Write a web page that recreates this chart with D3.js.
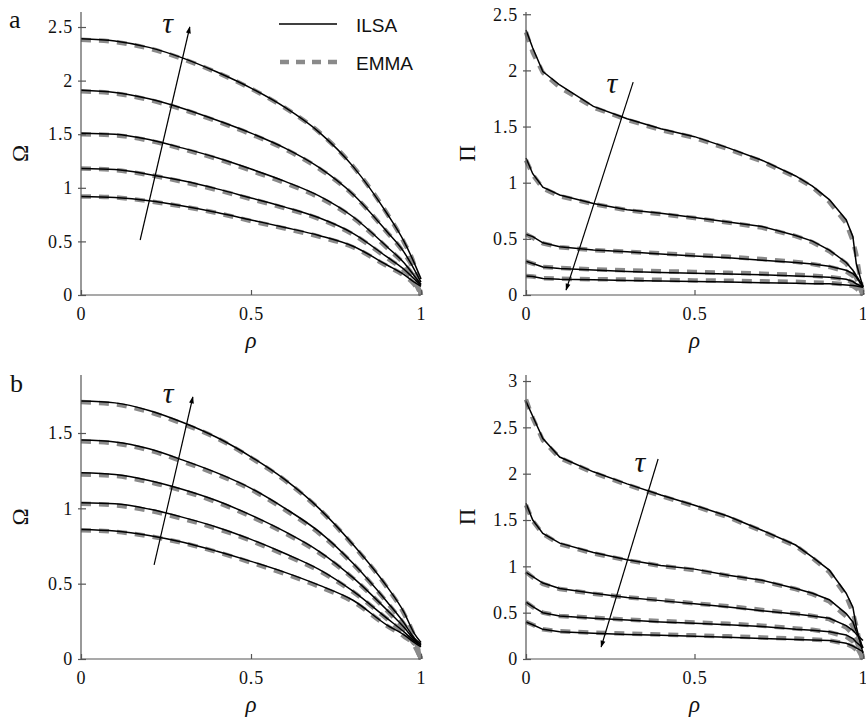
<!DOCTYPE html>
<html>
<head>
<meta charset="utf-8">
<script src="https://cdn.jsdelivr.net/npm/d3@7"></script>
<style>
  body { margin: 0; background: #fff; }
  svg { display: block; }
  .axis path, .axis line { stroke: #555; stroke-width: 1.2; }
  .lab { font-family: "Liberation Serif", "DejaVu Serif", serif; fill: #111; }
  .leg { font-family: "Liberation Sans", Arial, sans-serif; font-size: 19px; fill: #111; }
</style>
</head>
<body>
<div id="chart"></div>
<script>
// rho grids
var rhoL = [0, 0.1, 0.2, 0.3, 0.4, 0.5, 0.6, 0.7, 0.8, 0.9, 0.95, 0.98, 1];
var rhoR = [0, 0.02, 0.05, 0.1, 0.2, 0.3, 0.4, 0.5, 0.6, 0.7, 0.8, 0.85, 0.9, 0.95, 0.97, 0.98, 1];

// panel a, Omega
var omegaA_ilsa = [
  [0.92, 0.91, 0.88, 0.83, 0.77, 0.70, 0.63, 0.555, 0.455, 0.28, 0.19, 0.12, 0.08],
  [1.18, 1.17, 1.125, 1.065, 0.99, 0.905, 0.82, 0.72, 0.575, 0.355, 0.24, 0.15, 0.09],
  [1.51, 1.50, 1.45, 1.37, 1.28, 1.175, 1.06, 0.925, 0.73, 0.45, 0.30, 0.18, 0.10],
  [1.91, 1.89, 1.83, 1.74, 1.63, 1.51, 1.37, 1.19, 0.94, 0.59, 0.40, 0.24, 0.12],
  [2.39, 2.37, 2.31, 2.21, 2.08, 1.93, 1.75, 1.52, 1.20, 0.76, 0.50, 0.30, 0.15]
];
var omegaA_emma = [
  [0.92, 0.91, 0.875, 0.825, 0.765, 0.69, 0.62, 0.545, 0.445, 0.27, 0.18, 0.10, 0],
  [1.18, 1.165, 1.12, 1.055, 0.98, 0.895, 0.81, 0.71, 0.565, 0.345, 0.23, 0.13, 0],
  [1.50, 1.49, 1.44, 1.36, 1.27, 1.16, 1.045, 0.91, 0.72, 0.44, 0.29, 0.16, 0],
  [1.90, 1.88, 1.82, 1.73, 1.62, 1.50, 1.36, 1.18, 0.935, 0.585, 0.39, 0.22, 0],
  [2.38, 2.36, 2.30, 2.20, 2.075, 1.925, 1.745, 1.52, 1.20, 0.76, 0.49, 0.28, 0]
];

// panel a, Pi
var piA_ilsa = [
  [2.36, 2.20, 1.99, 1.87, 1.68, 1.57, 1.48, 1.41, 1.31, 1.20, 1.06, 0.97, 0.85, 0.67, 0.52, 0.28, 0.07],
  [1.22, 1.08, 0.96, 0.89, 0.815, 0.76, 0.727, 0.69, 0.65, 0.61, 0.53, 0.48, 0.40, 0.29, 0.22, 0.17, 0.08],
  [0.54, 0.52, 0.465, 0.43, 0.40, 0.385, 0.365, 0.347, 0.332, 0.31, 0.29, 0.275, 0.255, 0.22, 0.19, 0.16, 0.07],
  [0.30, 0.28, 0.25, 0.237, 0.222, 0.21, 0.20, 0.193, 0.187, 0.18, 0.17, 0.165, 0.157, 0.14, 0.12, 0.10, 0.07],
  [0.17, 0.165, 0.148, 0.14, 0.135, 0.13, 0.125, 0.12, 0.115, 0.11, 0.105, 0.10, 0.10, 0.09, 0.085, 0.08, 0.07]
];
var piA_emma = [
  [2.34, 2.16, 1.98, 1.85, 1.67, 1.56, 1.47, 1.40, 1.30, 1.19, 1.05, 0.96, 0.83, 0.64, 0.48, 0.36, 0],
  [1.20, 1.07, 0.95, 0.88, 0.81, 0.755, 0.72, 0.685, 0.645, 0.60, 0.525, 0.47, 0.39, 0.28, 0.20, 0.15, 0],
  [0.54, 0.51, 0.46, 0.425, 0.40, 0.385, 0.37, 0.355, 0.34, 0.32, 0.295, 0.275, 0.25, 0.21, 0.17, 0.13, 0],
  [0.30, 0.28, 0.25, 0.24, 0.228, 0.22, 0.212, 0.205, 0.198, 0.19, 0.18, 0.172, 0.16, 0.14, 0.11, 0.08, 0],
  [0.17, 0.165, 0.15, 0.145, 0.14, 0.138, 0.135, 0.13, 0.127, 0.122, 0.117, 0.112, 0.107, 0.095, 0.08, 0.06, 0]
];

// panel b, Omega
var omegaB_ilsa = [
  [0.86, 0.85, 0.82, 0.775, 0.715, 0.648, 0.575, 0.49, 0.39, 0.225, 0.16, 0.11, 0.08],
  [1.037, 1.03, 0.995, 0.94, 0.875, 0.794, 0.70, 0.595, 0.45, 0.27, 0.18, 0.12, 0.09],
  [1.236, 1.225, 1.185, 1.125, 1.05, 0.955, 0.845, 0.715, 0.54, 0.325, 0.21, 0.13, 0.09],
  [1.453, 1.44, 1.395, 1.32, 1.235, 1.133, 1.00, 0.845, 0.635, 0.38, 0.24, 0.14, 0.10],
  [1.712, 1.70, 1.65, 1.57, 1.47, 1.342, 1.19, 1.00, 0.76, 0.48, 0.31, 0.17, 0.11]
];
var omegaB_emma = [
  [0.855, 0.845, 0.815, 0.77, 0.71, 0.64, 0.565, 0.48, 0.38, 0.22, 0.15, 0.09, 0],
  [1.03, 1.02, 0.985, 0.93, 0.865, 0.785, 0.69, 0.585, 0.445, 0.265, 0.17, 0.10, 0],
  [1.225, 1.215, 1.175, 1.115, 1.04, 0.945, 0.835, 0.705, 0.535, 0.32, 0.20, 0.11, 0],
  [1.445, 1.43, 1.385, 1.31, 1.225, 1.125, 0.99, 0.835, 0.63, 0.375, 0.23, 0.12, 0],
  [1.705, 1.69, 1.64, 1.56, 1.465, 1.335, 1.185, 0.995, 0.755, 0.475, 0.30, 0.15, 0]
];

// panel b, Pi
var piB_ilsa = [
  [2.78, 2.62, 2.38, 2.18, 2.02, 1.89, 1.77, 1.66, 1.54, 1.39, 1.23, 1.10, 0.96, 0.71, 0.56, 0.35, 0.06],
  [1.68, 1.50, 1.356, 1.25, 1.15, 1.07, 1.01, 0.97, 0.905, 0.85, 0.76, 0.71, 0.64, 0.49, 0.40, 0.30, 0.12],
  [0.935, 0.89, 0.82, 0.76, 0.71, 0.665, 0.63, 0.595, 0.56, 0.52, 0.485, 0.465, 0.44, 0.36, 0.31, 0.27, 0.20],
  [0.615, 0.565, 0.50, 0.465, 0.44, 0.42, 0.40, 0.385, 0.37, 0.35, 0.32, 0.31, 0.295, 0.26, 0.22, 0.18, 0.12],
  [0.40, 0.37, 0.32, 0.295, 0.277, 0.265, 0.255, 0.245, 0.235, 0.222, 0.21, 0.205, 0.20, 0.17, 0.14, 0.12, 0.08]
];
var piB_emma = [
  [2.80, 2.60, 2.36, 2.17, 2.01, 1.88, 1.76, 1.65, 1.53, 1.38, 1.22, 1.09, 0.94, 0.68, 0.50, 0.36, 0],
  [1.66, 1.49, 1.35, 1.24, 1.14, 1.065, 1.005, 0.96, 0.90, 0.84, 0.755, 0.70, 0.62, 0.46, 0.35, 0.26, 0],
  [0.94, 0.88, 0.81, 0.755, 0.705, 0.665, 0.635, 0.60, 0.57, 0.53, 0.49, 0.465, 0.43, 0.34, 0.27, 0.20, 0],
  [0.61, 0.56, 0.50, 0.465, 0.445, 0.425, 0.41, 0.395, 0.38, 0.36, 0.33, 0.315, 0.29, 0.24, 0.19, 0.14, 0],
  [0.40, 0.37, 0.32, 0.30, 0.285, 0.275, 0.265, 0.255, 0.245, 0.232, 0.22, 0.21, 0.20, 0.165, 0.13, 0.10, 0]
];

var yTicksOmegaA = [0, 0.5, 1, 1.5, 2, 2.5];
var yTicksPiA = [0, 0.5, 1, 1.5, 2, 2.5];
var yTicksOmegaB = [0, 0.5, 1, 1.5];
var yTicksPiB = [0, 0.5, 1, 1.5, 2, 2.5, 3];
var xTicks = [0, 0.5, 1];

var W = 866, H = 723;
var serif = '"Liberation Serif", "DejaVu Serif", serif';
var svg = d3.select("#chart").append("svg").attr("width", W).attr("height", H);

var defs = svg.append("defs");
defs.append("marker").attr("id", "arr")
  .attr("viewBox", "0 0 10 10").attr("refX", 9).attr("refY", 5)
  .attr("markerWidth", 9).attr("markerHeight", 7).attr("markerUnits", "userSpaceOnUse")
  .attr("orient", "auto")
  .append("path").attr("d", "M0,1.5 L10,5 L0,8.5 Z").attr("fill", "#000");

var panels = [
  {x0: 81, x1: 421, yb: 295, yt: 12, ymax: 2.64, ticks: yTicksOmegaA, rho: rhoL, ilsa: omegaA_ilsa, emma: omegaA_emma,
   name: "\u03A9", nameX: 20, arrow: [[0.174, 0.513], [0.32, 2.50]], tau: [0.255, 2.44], curve: d3.curveMonotoneX},
  {x0: 526, x1: 863, yb: 295, yt: 12, ymax: 2.52, ticks: yTicksPiA, rho: rhoR, ilsa: piA_ilsa, emma: piA_emma,
   name: "\u03A0", nameX: 467, arrow: [[0.318, 1.895], [0.119, 0.044]], tau: [0.255, 1.80], curve: d3.curveLinear},
  {x0: 81, x1: 421, yb: 659, yt: 375, ymax: 1.885, ticks: yTicksOmegaB, rho: rhoL, ilsa: omegaB_ilsa, emma: omegaB_emma,
   name: "\u03A9", nameX: 20, arrow: [[0.215, 0.624], [0.329, 1.739]], tau: [0.256, 1.70], curve: d3.curveMonotoneX},
  {x0: 526, x1: 863, yb: 659, yt: 375, ymax: 3.065, ticks: yTicksPiB, rho: rhoR, ilsa: piB_ilsa, emma: piB_emma,
   name: "\u03A0", nameX: 467, arrow: [[0.392, 2.158], [0.223, 0.13]], tau: [0.338, 2.02], curve: d3.curveLinear}
];

panels.forEach(function(p) {
  var x = d3.scaleLinear().domain([0, 1]).range([p.x0, p.x1]);
  var y = d3.scaleLinear().domain([0, p.ymax]).range([p.yb, p.yt]);
  var g = svg.append("g");

  var line = d3.line().curve(p.curve)
    .x(function(d, i) { return x(p.rho[i]); })
    .y(function(d) { return y(d); });

  // EMMA first (gray dashed), ILSA on top
  g.selectAll("path.emma").data(p.emma).enter().append("path")
    .attr("class", "emma").attr("d", line)
    .attr("fill", "none").attr("stroke", "#8a8a8a").attr("stroke-width", 4.5)
    .attr("stroke-dasharray", "10,8");
  g.selectAll("path.ilsa").data(p.ilsa).enter().append("path")
    .attr("class", "ilsa").attr("d", line)
    .attr("fill", "none").attr("stroke", "#000").attr("stroke-width", 1.5);

  var ax = g.append("g").attr("class", "axis")
    .attr("transform", "translate(" + p.x0 + ",0)")
    .call(d3.axisLeft(y).tickValues(p.ticks).tickSize(-5).tickSizeOuter(0).tickPadding(8)
      .tickFormat(function(d) { return String(d); }));
  ax.selectAll(".tick line").attr("x1", -3);
  ax.select(".domain").attr("d", "M0," + p.yb + "V" + p.yt);

  var bx = g.append("g").attr("class", "axis")
    .attr("transform", "translate(0," + p.yb + ")")
    .call(d3.axisBottom(x).tickValues(xTicks).tickSize(-5).tickSizeOuter(0).tickPadding(12)
      .tickFormat(function(d) { return String(d); }));
  bx.select(".domain").attr("d", "M" + p.x0 + ",0H" + p.x1);

  g.selectAll(".axis text")
    .style("font-family", serif).style("font-size", "18px")
    .style("letter-spacing", "0.8px").attr("fill", "#111");

  // axis labels
  svg.append("text").attr("class", "lab")
    .attr("transform", "translate(" + p.nameX + "," + ((p.yb + p.yt) / 2) + ") rotate(-90)")
    .attr("text-anchor", "middle").attr("dy", "0.35em")
    .style("font-size", "23px").text(p.name);
  svg.append("text").attr("class", "lab")
    .attr("x", (p.x0 + p.x1) / 2).attr("y", p.yb + 53)
    .attr("text-anchor", "middle").style("font-size", "23px").style("font-style", "italic")
    .text("\u03C1");

  // tau arrow
  g.append("line")
    .attr("x1", x(p.arrow[0][0])).attr("y1", y(p.arrow[0][1]))
    .attr("x2", x(p.arrow[1][0])).attr("y2", y(p.arrow[1][1]))
    .attr("stroke", "#000").attr("stroke-width", 1.2).attr("marker-end", "url(#arr)");
  g.append("text").attr("class", "lab")
    .attr("x", x(p.tau[0])).attr("y", y(p.tau[1]))
    .attr("text-anchor", "middle").style("font-size", "30px").style("font-style", "italic")
    .text("\u03C4");
});

// panel letters
svg.append("text").attr("class", "lab").attr("x", 9).attr("y", 28).style("font-size", "26px").text("a");
svg.append("text").attr("class", "lab").attr("x", 10).attr("y", 392).style("font-size", "26px").text("b");

// legend
var legend = svg.append("g");
legend.append("line").attr("x1", 279).attr("x2", 337).attr("y1", 24).attr("y2", 24)
  .attr("stroke", "#000").attr("stroke-width", 1.5);
legend.append("text").attr("class", "leg").attr("x", 356).attr("y", 25).attr("dy", "0.35em").text("ILSA");
legend.append("line").attr("x1", 280).attr("x2", 337).attr("y1", 62).attr("y2", 62)
  .attr("stroke", "#8a8a8a").attr("stroke-width", 4.5).attr("stroke-dasharray", "9,7");
legend.append("text").attr("class", "leg").attr("x", 356).attr("y", 63).attr("dy", "0.35em").text("EMMA");
</script>
</body>
</html>
